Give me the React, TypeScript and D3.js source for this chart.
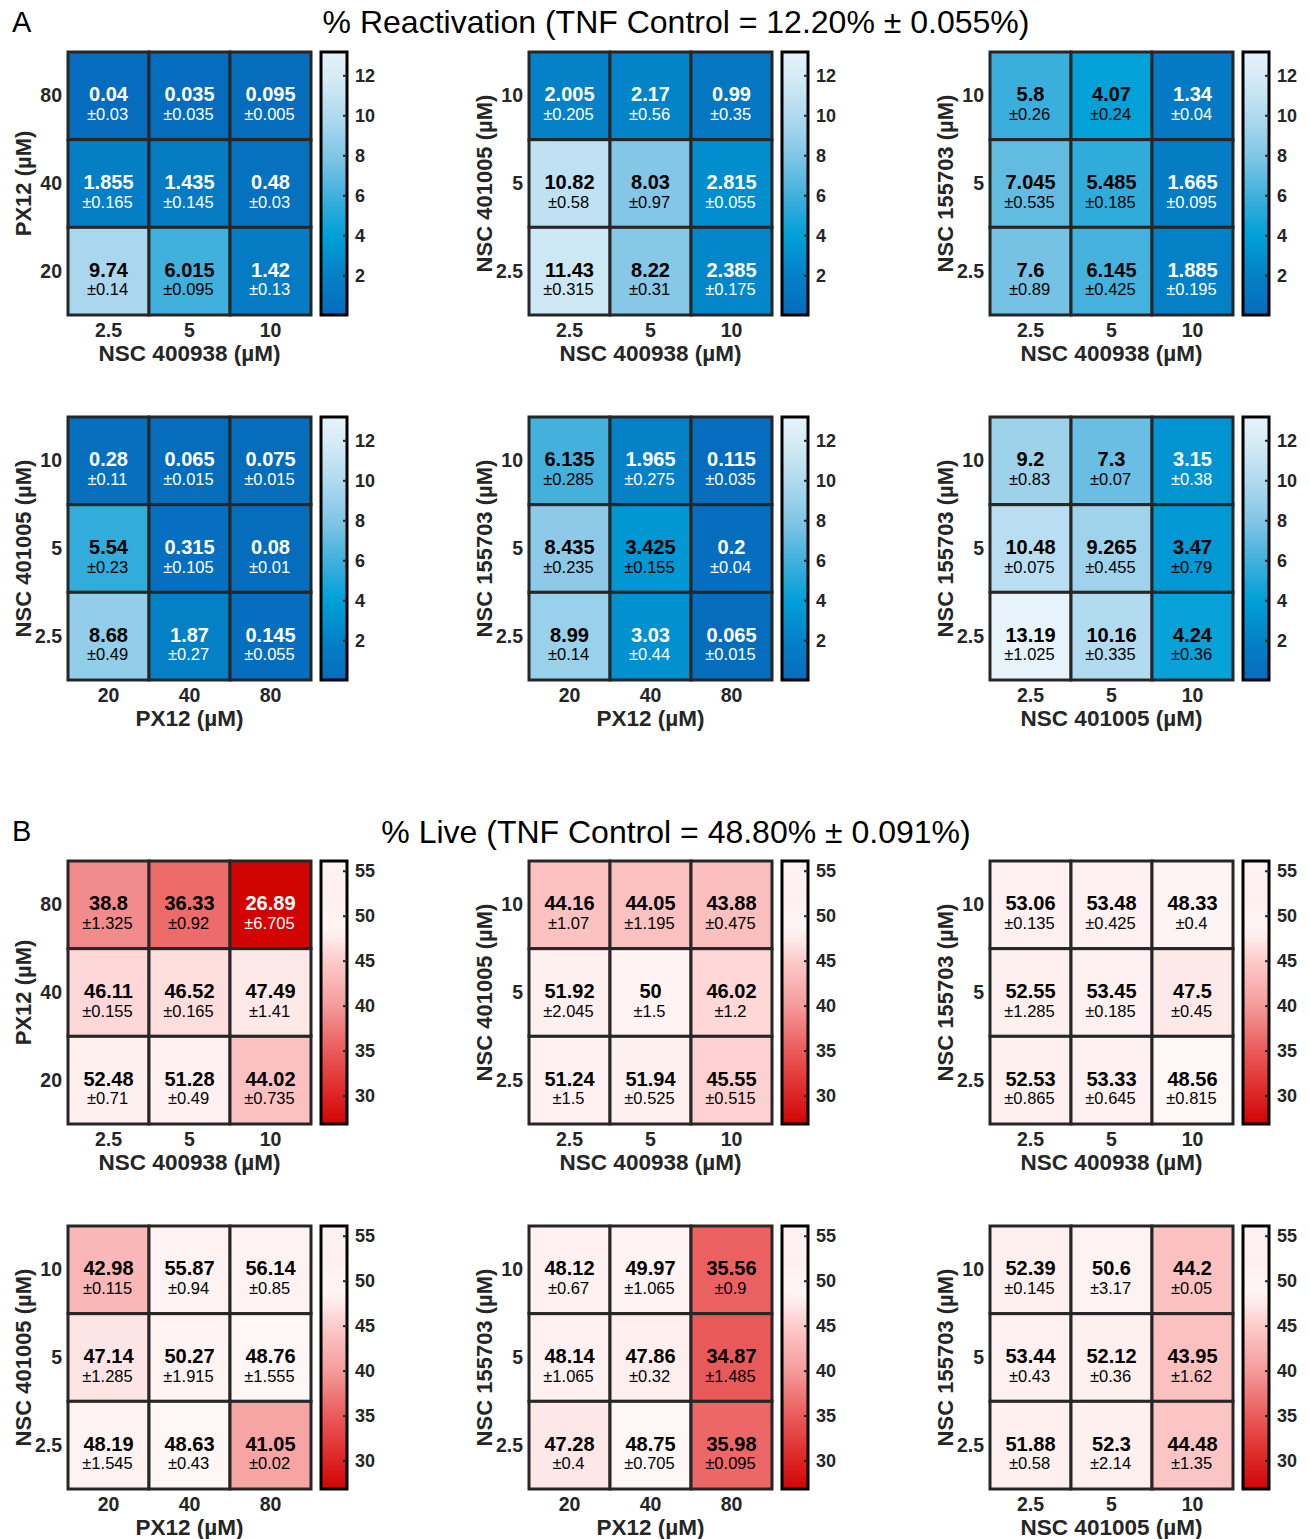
import * as d3 from "d3";

const FONT = "'Liberation Sans', Arial, Helvetica, sans-serif";
const INK = "#262626";

// concentration levels (columns left->right, rows top->bottom)
const px12Cols = ["20", "40", "80"];
const px12Rows = ["80", "40", "20"];
const nscCols = ["2.5", "5", "10"];
const nscRows = ["10", "5", "2.5"];

const titleA = "% Reactivation (TNF Control = 12.20% \u00b1 0.055%)";
const titleB = "% Live (TNF Control = 48.80% \u00b1 0.091%)";

// % reactivation, rows top->bottom
const reactPx12_400938 = [[0.04, 0.035, 0.095], [1.855, 1.435, 0.48], [9.74, 6.015, 1.42]];
const reactPx12_400938Err = [[0.03, 0.035, 0.005], [0.165, 0.145, 0.03], [0.14, 0.095, 0.13]];
const react401005_400938 = [[2.005, 2.17, 0.99], [10.82, 8.03, 2.815], [11.43, 8.22, 2.385]];
const react401005_400938Err = [[0.205, 0.56, 0.35], [0.58, 0.97, 0.055], [0.315, 0.31, 0.175]];
const react155703_400938 = [[5.8, 4.07, 1.34], [7.045, 5.485, 1.665], [7.6, 6.145, 1.885]];
const react155703_400938Err = [[0.26, 0.24, 0.04], [0.535, 0.185, 0.095], [0.89, 0.425, 0.195]];
const react401005_px12 = [[0.28, 0.065, 0.075], [5.54, 0.315, 0.08], [8.68, 1.87, 0.145]];
const react401005_px12Err = [[0.11, 0.015, 0.015], [0.23, 0.105, 0.01], [0.49, 0.27, 0.055]];
const react155703_px12 = [[6.135, 1.965, 0.115], [8.435, 3.425, 0.2], [8.99, 3.03, 0.065]];
const react155703_px12Err = [[0.285, 0.275, 0.035], [0.235, 0.155, 0.04], [0.14, 0.44, 0.015]];
const react155703_401005 = [[9.2, 7.3, 3.15], [10.48, 9.265, 3.47], [13.19, 10.16, 4.24]];
const react155703_401005Err = [[0.83, 0.07, 0.38], [0.075, 0.455, 0.79], [1.025, 0.335, 0.36]];

// % live
const livePx12_400938 = [[38.8, 36.33, 26.89], [46.11, 46.52, 47.49], [52.48, 51.28, 44.02]];
const livePx12_400938Err = [[1.325, 0.92, 6.705], [0.155, 0.165, 1.41], [0.71, 0.49, 0.735]];
const live401005_400938 = [[44.16, 44.05, 43.88], [51.92, 50, 46.02], [51.24, 51.94, 45.55]];
const live401005_400938Err = [[1.07, 1.195, 0.475], [2.045, 1.5, 1.2], [1.5, 0.525, 0.515]];
const live155703_400938 = [[53.06, 53.48, 48.33], [52.55, 53.45, 47.5], [52.53, 53.33, 48.56]];
const live155703_400938Err = [[0.135, 0.425, 0.4], [1.285, 0.185, 0.45], [0.865, 0.645, 0.815]];
const live401005_px12 = [[42.98, 55.87, 56.14], [47.14, 50.27, 48.76], [48.19, 48.63, 41.05]];
const live401005_px12Err = [[0.115, 0.94, 0.85], [1.285, 1.915, 1.555], [1.545, 0.43, 0.02]];
const live155703_px12 = [[48.12, 49.97, 35.56], [48.14, 47.86, 34.87], [47.28, 48.75, 35.98]];
const live155703_px12Err = [[0.67, 1.065, 0.9], [1.065, 0.32, 1.485], [0.4, 0.705, 0.095]];
const live155703_401005 = [[52.39, 50.6, 44.2], [53.44, 52.12, 43.95], [51.88, 52.3, 44.48]];
const live155703_401005Err = [[0.145, 3.17, 0.05], [0.43, 0.36, 1.62], [0.58, 2.14, 1.35]];

const blueTicks = [2, 4, 6, 8, 10, 12];
const redTicks = [30, 35, 40, 45, 50, 55];

const panelsA = [
  { v: reactPx12_400938, e: reactPx12_400938Err, xl: "NSC 400938 (\u00b5M)", yl: "PX12 (\u00b5M)", xt: nscCols, yt: px12Rows },
  { v: react401005_400938, e: react401005_400938Err, xl: "NSC 400938 (\u00b5M)", yl: "NSC 401005 (\u00b5M)", xt: nscCols, yt: nscRows },
  { v: react155703_400938, e: react155703_400938Err, xl: "NSC 400938 (\u00b5M)", yl: "NSC 155703 (\u00b5M)", xt: nscCols, yt: nscRows },
  { v: react401005_px12, e: react401005_px12Err, xl: "PX12 (\u00b5M)", yl: "NSC 401005 (\u00b5M)", xt: px12Cols, yt: nscRows },
  { v: react155703_px12, e: react155703_px12Err, xl: "PX12 (\u00b5M)", yl: "NSC 155703 (\u00b5M)", xt: px12Cols, yt: nscRows },
  { v: react155703_401005, e: react155703_401005Err, xl: "NSC 401005 (\u00b5M)", yl: "NSC 155703 (\u00b5M)", xt: nscCols, yt: nscRows },
];
const panelsB = [
  { v: livePx12_400938, e: livePx12_400938Err, xl: "NSC 400938 (\u00b5M)", yl: "PX12 (\u00b5M)", xt: nscCols, yt: px12Rows },
  { v: live401005_400938, e: live401005_400938Err, xl: "NSC 400938 (\u00b5M)", yl: "NSC 401005 (\u00b5M)", xt: nscCols, yt: nscRows },
  { v: live155703_400938, e: live155703_400938Err, xl: "NSC 400938 (\u00b5M)", yl: "NSC 155703 (\u00b5M)", xt: nscCols, yt: nscRows },
  { v: live401005_px12, e: live401005_px12Err, xl: "PX12 (\u00b5M)", yl: "NSC 401005 (\u00b5M)", xt: px12Cols, yt: nscRows },
  { v: live155703_px12, e: live155703_px12Err, xl: "PX12 (\u00b5M)", yl: "NSC 155703 (\u00b5M)", xt: px12Cols, yt: nscRows },
  { v: live155703_401005, e: live155703_401005Err, xl: "NSC 401005 (\u00b5M)", yl: "NSC 155703 (\u00b5M)", xt: nscCols, yt: nscRows },
];

const allReact = panelsA.flatMap((p) => p.v.flat());
const allLive = panelsB.flatMap((p) => p.v.flat());

const blueScale = d3
  .scaleLinear<string>()
  .domain([0, 2, 4, 6, 8, 10, 12, 13.2])
  .range(["#066cbd", "#0481c7", "#00a0d8", "#40b0dc", "#82c6e6", "#b0daef", "#d8ecf6", "#e6f3fa"])
  .clamp(true);
const redScale = d3
  .scaleLinear<string>()
  .domain([26.6, 30, 35, 40, 45, 48.5, 52, 56.2])
  .range(["#d00000", "#dc2424", "#ea5a5a", "#f59a9a", "#fdcaca", "#fff6f6", "#fff0f0", "#fff2f2"])
  .clamp(true);

const GW = 243;
const GH = 263;
const colX = [68, 529, 990];

type Panel = (typeof panelsA)[number];

function Heatmap({ p, x0, y0, color, extent, ticks, whiteBelow, gid }: {
  p: Panel; x0: number; y0: number; color: (v: number) => string;
  extent: [number, number]; ticks: number[]; whiteBelow: number; gid: string;
}) {
  const x = d3.scaleBand().domain(p.xt).range([x0, x0 + GW]);
  const y = d3.scaleBand().domain(p.yt).range([y0, y0 + GH]);
  const cbX = x0 + 253;
  const cbW = 26;
  const cbY = d3.scaleLinear().domain(extent).range([y0 + GH, y0]);
  const stops = d3.range(0, 1.0001, 0.05).map((t) => extent[0] + t * (extent[1] - extent[0]));
  return (
    <g>
      <defs>
        <linearGradient id={gid} x1="0" y1="1" x2="0" y2="0">
          {stops.map((s, i) => (
            <stop key={i} offset={`${(i / (stops.length - 1)) * 100}%`} stopColor={color(s)} />
          ))}
        </linearGradient>
      </defs>
      {p.v.map((row, ri) =>
        row.map((val, ci) => {
          const cx = x(p.xt[ci])!;
          const cy = y(p.yt[ri])!;
          const mx = cx + x.bandwidth() / 2;
          const my = cy + y.bandwidth() / 2;
          const tc = val < whiteBelow ? "#ffffff" : "#000000";
          return (
            <g key={`${ri}-${ci}`}>
              <rect x={cx} y={cy} width={x.bandwidth()} height={y.bandwidth()} fill={color(val)} stroke={INK} strokeWidth={3} />
              <text x={mx} y={my + 5.5} textAnchor="middle" fontWeight="bold" fontSize={20} fill={tc}>{val}</text>
              <text x={mx - 1} y={my + 24} textAnchor="middle" fontSize={16.5} fill={tc}>{"\u00b1" + p.e[ri][ci]}</text>
            </g>
          );
        })
      )}
      {p.yt.map((t) => (
        <text key={t} x={x0 - 6} y={y(t)! + y.bandwidth() / 2 + 6.5} textAnchor="end" fontWeight="bold" fontSize={19.5} fill={INK}>{t}</text>
      ))}
      {p.xt.map((t) => (
        <text key={t} x={x(t)! + x.bandwidth() / 2} y={y0 + GH + 22} textAnchor="middle" fontWeight="bold" fontSize={19.5} fill={INK}>{t}</text>
      ))}
      <text x={x0 + GW / 2} y={y0 + GH + 46} textAnchor="middle" fontWeight="bold" fontSize={22.5} fill={INK}>{p.xl}</text>
      <text transform={`translate(${x0 - 37},${y0 + GH / 2}) rotate(-90)`} textAnchor="middle" fontWeight="bold" fontSize={22} fill={INK}>{p.yl}</text>
      <rect x={cbX} y={y0} width={cbW} height={GH} fill={`url(#${gid})`} stroke="#000" strokeWidth={3} />
      {ticks.map((t) => (
        <g key={t}>
          <line x1={cbX + cbW - 4} x2={cbX + cbW} y1={cbY(t)} y2={cbY(t)} stroke={INK} strokeWidth={2} />
          <text x={cbX + cbW + 8} y={cbY(t) + 6} fontWeight="bold" fontSize={18} fill={INK}>{t}</text>
        </g>
      ))}
    </g>
  );
}

export default function App() {
  const reactExt = d3.extent(allReact) as [number, number];
  const liveExt = d3.extent(allLive) as [number, number];
  const rowsA = [52, 417];
  const rowsB = [861, 1226];
  return (
    <svg width={1309} height={1539} style={{ position: "absolute", left: 0, top: 0, background: "#fff" }} fontFamily={FONT}>
      <rect width={1309} height={1539} fill="#fff" />
      <text x={12} y={32} fontSize={29} fill="#000">A</text>
      <text x={676} y={33} textAnchor="middle" fontSize={32} fill="#000">{titleA}</text>
      <text x={12} y={841} fontSize={29} fill="#000">B</text>
      <text x={676} y={843} textAnchor="middle" fontSize={32} fill="#000">{titleB}</text>
      {panelsA.map((p, i) => (
        <Heatmap key={`a${i}`} p={p} x0={colX[i % 3]} y0={rowsA[Math.floor(i / 3)]} color={blueScale}
          extent={reactExt} ticks={blueTicks} whiteBelow={3.3} gid={`ga${i}`} />
      ))}
      {panelsB.map((p, i) => (
        <Heatmap key={`b${i}`} p={p} x0={colX[i % 3]} y0={rowsB[Math.floor(i / 3)]} color={redScale}
          extent={liveExt} ticks={redTicks} whiteBelow={30} gid={`gb${i}`} />
      ))}
    </svg>
  );
}
